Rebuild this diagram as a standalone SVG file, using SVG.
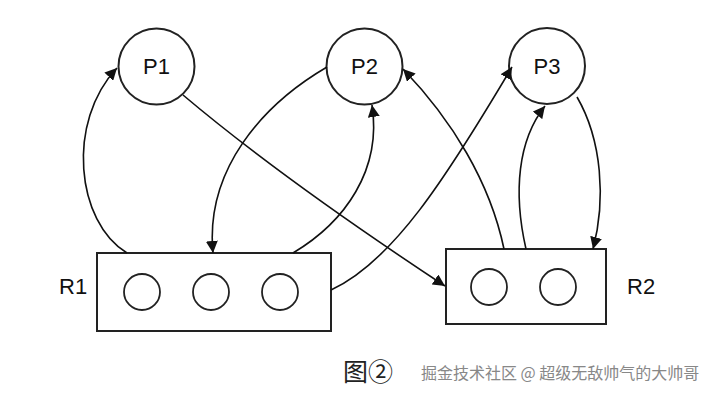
<svg xmlns="http://www.w3.org/2000/svg" width="712" height="401" viewBox="0 0 712 401">
<style>
.node{fill:#fff;stroke:#222;stroke-width:2}
.slot{fill:#fff;stroke:#222;stroke-width:1.8}
.lbl{font-family:"Liberation Sans",Arial,sans-serif;font-size:22px;fill:#111}
.edge{fill:none;stroke:#111;stroke-width:1.6}
</style>
<defs>
<marker id="ah" viewBox="0 0 10 10" refX="10" refY="5" markerWidth="12" markerHeight="12" markerUnits="userSpaceOnUse" orient="auto">
<path d="M0,0 L10,5 L0,10 z" fill="#111"/>
</marker>
</defs>
<rect width="712" height="401" fill="#fff"/>
<g id="P1"><circle class="node" cx="156.5" cy="66.5" r="38"/><text class="lbl" x="156.5" y="74" text-anchor="middle">P1</text></g>
<g id="P2"><circle class="node" cx="364.5" cy="66.5" r="38"/><text class="lbl" x="364.5" y="74" text-anchor="middle">P2</text></g>
<g id="P3"><circle class="node" cx="547" cy="66" r="38"/><text class="lbl" x="547" y="74" text-anchor="middle">P3</text></g>
<g id="R1"><rect class="node" x="97" y="253" width="234" height="78"/><circle class="slot" cx="142" cy="292" r="18"/><circle class="slot" cx="211" cy="292" r="18"/><circle class="slot" cx="280" cy="292" r="18"/><text class="lbl" x="59" y="294">R1</text></g>
<g id="R2"><rect class="node" x="446" y="249" width="160" height="75"/><circle class="slot" cx="489" cy="287" r="18"/><circle class="slot" cx="558" cy="287" r="18"/><text class="lbl" x="627" y="294">R2</text></g>
<g id="connectors">
<path class="edge" marker-end="url(#ah)" d="M127,253 C76,222 66,122 117,68"/>
<path class="edge" marker-end="url(#ah)" d="M183,95 C260,160 360,230 445,286"/>
<path class="edge" marker-end="url(#ah)" d="M327,67 C262,105 205,170 213,253"/>
<path class="edge" marker-end="url(#ah)" d="M293,253 C345,222 382,170 372,105"/>
<path class="edge" marker-end="url(#ah)" d="M331,290 C392,262 445,180 512,67"/>
<path class="edge" marker-end="url(#ah)" d="M504,249 C490,182 452,120 403,69"/>
<path class="edge" marker-end="url(#ah)" d="M526,249 C513,192 518,140 545,106"/>
<path class="edge" marker-end="url(#ah)" d="M577,97 C602,140 606,200 593,249"/>
</g>
<text x="343" y="381" font-family="'Noto Sans CJK SC',sans-serif" font-size="25" fill="#222">图②</text>
<text x="421" y="379" font-family="'Noto Sans CJK SC',sans-serif" font-size="16" fill="#888">掘金技术社区 @ 超级无敌帅气的大帅哥</text>
</svg>
